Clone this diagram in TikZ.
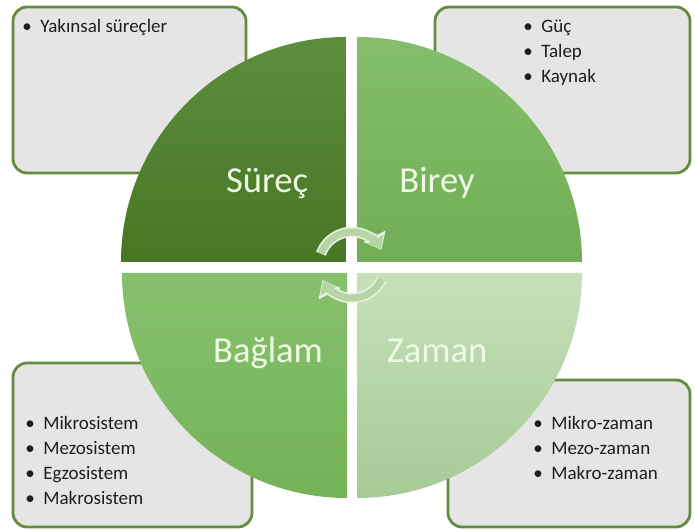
\documentclass[tikz,border=0pt]{standalone}
\usepackage{fontspec}
\setmainfont{Carlito}
\usetikzlibrary{arrows.meta}

\definecolor{boxfill}{RGB}{229,229,229}
\definecolor{boxline}{RGB}{98,140,64}
\definecolor{surectop}{RGB}{92,142,62}
\definecolor{surecbot}{RGB}{72,118,36}
\definecolor{bireytop}{RGB}{132,190,106}
\definecolor{bireybot}{RGB}{114,174,86}
\definecolor{baglamtop}{RGB}{134,192,108}
\definecolor{baglambot}{RGB}{118,178,90}
\definecolor{zamantop}{RGB}{198,224,186}
\definecolor{zamanbot}{RGB}{166,202,150}
\definecolor{labeltext}{RGB}{238,250,228}
\definecolor{itemtext}{RGB}{30,30,30}
\definecolor{arrowpale}{RGB}{182,212,166}
\definecolor{arrowedge}{RGB}{228,241,220}

\newcommand{\itembullet}{\makebox[0.95em][l]{\textbullet}}

\begin{document}
\begin{tikzpicture}[x=0.025cm, y=0.025cm,
    infobox/.style={draw=boxline, line width=2pt, fill=boxfill, rounded corners=10pt},
    partlabel/.style={text=labeltext, font=\fontsize{26}{31}\selectfont, anchor=base, inner sep=0pt},
    item/.style={text=itemtext, font=\fontsize{13.5}{16}\selectfont, anchor=base west, inner sep=0pt},
    turnedge/.style={draw=arrowedge, line width=7.5pt, -{Triangle[width=17pt,length=11pt]}},
    turn/.style={draw=arrowpale, line width=5pt, -{Triangle[width=13pt,length=8pt]}}]
  \useasboundingbox (0,0) rectangle (695,531);

  % Draw the boxes behind the circle
  \draw[infobox] (13,358) rectangle (246,524);
  \draw[infobox] (435,358) rectangle (690,524);
  \draw[infobox] (13,4) rectangle (252,168);
  \draw[infobox] (448,4) rectangle (690,151);

  % Draw the four parts of the circle
  \shade[top color=surectop, bottom color=surecbot]
    (346,269) -- (121,269) arc[start angle=180, end angle=90, radius=225] -- cycle;
  \shade[top color=bireytop, bottom color=bireybot]
    (357,269) -- (357,494) arc[start angle=90, end angle=0, radius=225] -- cycle;
  \shade[top color=baglamtop, bottom color=baglambot]
    (347,258) -- (122,258) arc[start angle=180, end angle=270, radius=225] -- cycle;
  \shade[top color=zamantop, bottom color=zamanbot]
    (357,258) -- (582,258) arc[start angle=0, end angle=-90, radius=225] -- cycle;

  % Names of the parts
  \node[partlabel] (surec) at (267,338) {Süreç};
  \node[partlabel] (birey) at (437,338) {Birey};
  \node[partlabel] (baglam) at (268,168) {Bağlam};
  \node[partlabel] (zaman) at (437,168) {Zaman};

  % Turning arrows in the middle
  \draw[turnedge] (352,266) ++(160:33) arc[start angle=160, end angle=27, radius=33];
  \draw[turn] (352,266) ++(160:33) arc[start angle=160, end angle=29, radius=33];
  \draw[turnedge] (352,266) ++(-25:33) arc[start angle=-25, end angle=-153, radius=33];
  \draw[turn] (352,266) ++(-25:33) arc[start angle=-25, end angle=-151, radius=33];

  % Lists in the boxes
  \node[item] (surec1) at (22,498) {\itembullet Yakınsal süreçler};
  \foreach \t [count=\i] in {Güç,Talep,Kaynak}
    \node[item] (birey\i) at (523,{498-25*(\i-1)}) {\itembullet\t};
  \foreach \t [count=\i] in {Mikrosistem,Mezosistem,Egzosistem,Makrosistem}
    \node[item] (baglam\i) at (25,{101-25*(\i-1)}) {\itembullet\t};
  \foreach \t [count=\i] in {Mikro-zaman,Mezo-zaman,Makro-zaman}
    \node[item] (zaman\i) at (533,{101-25*(\i-1)}) {\itembullet\t};
\end{tikzpicture}
\end{document}
